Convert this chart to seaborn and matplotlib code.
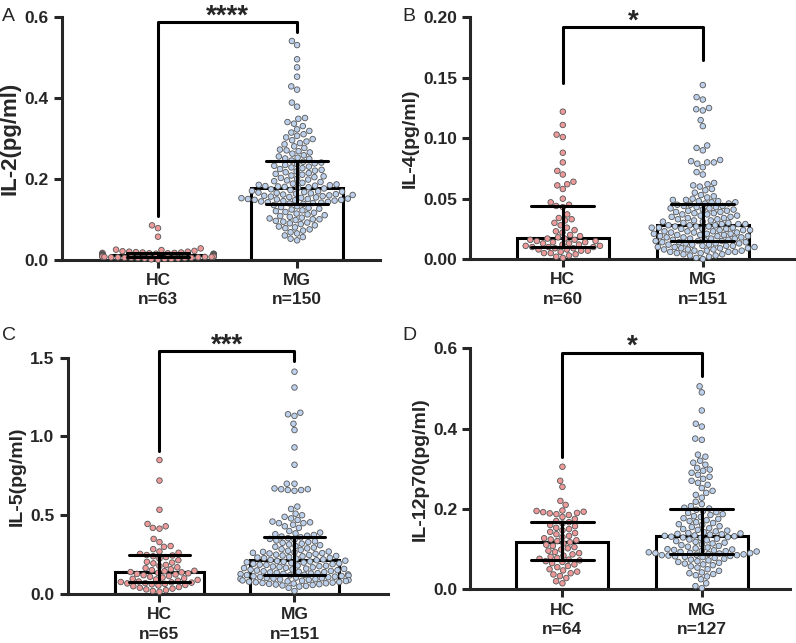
import numpy as np
import pandas as pd
import matplotlib
matplotlib.use("Agg")
import matplotlib.pyplot as plt
import seaborn as sns
from matplotlib.ticker import FormatStrFormatter

sns.set_style("ticks")
plt.rcParams['font.family'] = ['Liberation Sans', 'DejaVu Sans']

groups = ['HC', 'MG']

# --- panel A: IL-2 ---
il2_hc = [0.085, 0.078, 0.057,
          0.028, 0.025, 0.024, 0.022, 0.021, 0.020, 0.020, 0.019, 0.018, 0.018,
          0.017, 0.017, 0.016, 0.016, 0.015, 0.015, 0.015, 0.014, 0.014, 0.014,
          0.013, 0.013, 0.013, 0.012, 0.012, 0.012, 0.012, 0.011, 0.011, 0.011,
          0.011, 0.010, 0.010, 0.010, 0.010, 0.009, 0.009, 0.009, 0.009, 0.008,
          0.008, 0.008, 0.008, 0.007, 0.007, 0.007, 0.006, 0.006, 0.006, 0.005,
          0.005, 0.005, 0.004, 0.004, 0.003, 0.003, 0.002, 0.002, 0.001, 0.000]
il2_mg = [0.540, 0.530, 0.495, 0.475, 0.452, 0.428, 0.420, 0.388, 0.378, 0.350,
          0.348, 0.340, 0.336, 0.330, 0.322, 0.318, 0.314, 0.310, 0.306, 0.302,
          0.298, 0.295, 0.292, 0.288, 0.285, 0.280, 0.276, 0.272, 0.270, 0.268,
          0.265, 0.262, 0.258, 0.255, 0.252, 0.250, 0.249,
          0.245, 0.242, 0.240, 0.238, 0.236, 0.234, 0.232, 0.230, 0.228, 0.226,
          0.224, 0.222, 0.220, 0.218, 0.216, 0.214, 0.212, 0.210, 0.208, 0.206,
          0.204, 0.202, 0.200, 0.198, 0.196, 0.194, 0.192, 0.190, 0.188, 0.186,
          0.185, 0.184, 0.183, 0.182, 0.181, 0.180, 0.179, 0.178,
          0.176, 0.174, 0.172, 0.170, 0.169, 0.168, 0.167, 0.166, 0.165, 0.164,
          0.163, 0.162, 0.161, 0.160, 0.159, 0.158, 0.157, 0.156, 0.155, 0.154,
          0.153, 0.152, 0.151, 0.150, 0.150, 0.149, 0.148, 0.148, 0.147, 0.146,
          0.145, 0.144, 0.143, 0.142, 0.141, 0.140, 0.139, 0.138,
          0.135, 0.132, 0.130, 0.128, 0.126, 0.124, 0.122, 0.120, 0.118, 0.116,
          0.114, 0.112, 0.110, 0.108, 0.106, 0.104, 0.102, 0.100, 0.100, 0.098,
          0.096, 0.094, 0.092, 0.090, 0.088, 0.085, 0.082, 0.080, 0.078, 0.075,
          0.072, 0.068, 0.065, 0.060, 0.056, 0.052, 0.048]

# --- panel B: IL-4 ---
il4_hc = [0.122, 0.111, 0.103, 0.101, 0.088, 0.080, 0.073, 0.070, 0.064, 0.062,
          0.061, 0.058, 0.050, 0.047, 0.045,
          0.044, 0.043, 0.037, 0.034, 0.033, 0.032, 0.030, 0.028, 0.026, 0.024,
          0.023, 0.022, 0.020, 0.019, 0.018,
          0.017, 0.017, 0.016, 0.016, 0.015, 0.015, 0.014, 0.014, 0.013, 0.013,
          0.012, 0.012, 0.011, 0.011, 0.010,
          0.010, 0.010, 0.009, 0.009, 0.008, 0.008, 0.007, 0.007, 0.006, 0.005,
          0.005, 0.004, 0.003, 0.002, 0.001]
il4_mg = [0.144, 0.134, 0.132, 0.125, 0.124, 0.123, 0.115, 0.110, 0.094, 0.092,
          0.090, 0.082, 0.081, 0.080, 0.080, 0.079, 0.076, 0.072, 0.070, 0.063,
          0.062, 0.061, 0.060, 0.058, 0.057, 0.055, 0.053, 0.052, 0.051, 0.050,
          0.049, 0.049, 0.048, 0.048, 0.047, 0.047, 0.046, 0.046,
          0.045, 0.045, 0.044, 0.044, 0.043, 0.043, 0.042, 0.042, 0.041, 0.041,
          0.040, 0.040, 0.039, 0.039, 0.038, 0.038, 0.037, 0.037, 0.036, 0.036,
          0.035, 0.035, 0.034, 0.034, 0.033, 0.033, 0.032, 0.032, 0.031, 0.031,
          0.030, 0.030, 0.029, 0.029, 0.029, 0.028, 0.028,
          0.028, 0.027, 0.027, 0.027, 0.026, 0.026, 0.026, 0.025, 0.025, 0.025,
          0.024, 0.024, 0.024, 0.023, 0.023, 0.023, 0.022, 0.022, 0.022, 0.021,
          0.021, 0.021, 0.020, 0.020, 0.020, 0.019, 0.019, 0.019, 0.018, 0.018,
          0.018, 0.017, 0.017, 0.017, 0.016, 0.016, 0.016, 0.015,
          0.015, 0.015, 0.014, 0.014, 0.014, 0.013, 0.013, 0.013, 0.012, 0.012,
          0.012, 0.011, 0.011, 0.011, 0.010, 0.010, 0.010, 0.009, 0.009, 0.009,
          0.008, 0.008, 0.008, 0.007, 0.007, 0.007, 0.006, 0.006, 0.006, 0.005,
          0.005, 0.004, 0.004, 0.003, 0.003, 0.002, 0.001, 0.000]

# --- panel C: IL-5 ---
il5_hc = [0.850, 0.720, 0.535, 0.445, 0.430, 0.420, 0.415, 0.350, 0.330, 0.305,
          0.300, 0.285, 0.270, 0.262, 0.255, 0.248,
          0.245, 0.240, 0.235, 0.225, 0.215, 0.205, 0.200, 0.195, 0.185, 0.178,
          0.170, 0.165, 0.158, 0.152, 0.148, 0.145, 0.140,
          0.138, 0.135, 0.132, 0.128, 0.125, 0.120, 0.115, 0.110, 0.105, 0.100,
          0.097, 0.093, 0.090, 0.085, 0.080, 0.077,
          0.075, 0.073, 0.070, 0.068, 0.065, 0.062, 0.058, 0.055, 0.050, 0.045,
          0.040, 0.035, 0.030, 0.025, 0.020, 0.015]
il5_mg = [1.410, 1.310, 1.150, 1.140, 1.130, 1.080, 1.040, 0.930, 0.820, 0.700,
          0.700, 0.670, 0.665, 0.665, 0.660, 0.660, 0.655, 0.555, 0.540, 0.510,
          0.500, 0.490, 0.480, 0.470, 0.460, 0.455, 0.450, 0.450, 0.440, 0.430,
          0.420, 0.400, 0.390, 0.385, 0.380, 0.375, 0.370, 0.365,
          0.360, 0.355, 0.350, 0.345, 0.340, 0.335, 0.330, 0.325, 0.320, 0.315,
          0.310, 0.305, 0.300, 0.295, 0.290, 0.285, 0.280, 0.275, 0.270, 0.268,
          0.265, 0.262, 0.260, 0.258, 0.255, 0.250, 0.248, 0.245, 0.242, 0.240,
          0.235, 0.232, 0.230, 0.228, 0.225, 0.220, 0.217,
          0.215, 0.212, 0.210, 0.207, 0.205, 0.202, 0.200, 0.197, 0.195, 0.192,
          0.190, 0.187, 0.185, 0.182, 0.180, 0.177, 0.175, 0.172, 0.170, 0.167,
          0.165, 0.162, 0.160, 0.157, 0.155, 0.152, 0.150, 0.147, 0.145, 0.142,
          0.140, 0.138, 0.135, 0.133, 0.131, 0.129, 0.127, 0.125,
          0.123, 0.121, 0.119, 0.117, 0.115, 0.113, 0.111, 0.109, 0.107, 0.105,
          0.103, 0.101, 0.099, 0.097, 0.095, 0.093, 0.091, 0.089, 0.087, 0.085,
          0.083, 0.081, 0.079, 0.077, 0.075, 0.073, 0.071, 0.069, 0.067, 0.065,
          0.063, 0.061, 0.058, 0.055, 0.052, 0.048, 0.040, 0.020]

# --- panel D: IL-12p70 ---
il12_hc = [0.305, 0.270, 0.255, 0.220, 0.210, 0.196, 0.195, 0.193, 0.192, 0.190,
           0.189, 0.187, 0.185, 0.180, 0.175, 0.170,
           0.167, 0.164, 0.160, 0.157, 0.153, 0.150, 0.147, 0.143, 0.140, 0.137,
           0.133, 0.130, 0.127, 0.124, 0.122, 0.120,
           0.117, 0.114, 0.111, 0.108, 0.105, 0.102, 0.099, 0.096, 0.093, 0.090,
           0.087, 0.084, 0.081, 0.078, 0.076, 0.074,
           0.072, 0.070, 0.068, 0.065, 0.062, 0.058, 0.055, 0.050, 0.047, 0.044,
           0.040, 0.037, 0.033, 0.028, 0.020, 0.015]
il12_mg = [0.505, 0.490, 0.445, 0.412, 0.405, 0.375, 0.372, 0.335, 0.330, 0.320,
           0.315, 0.310, 0.302, 0.298, 0.295, 0.290, 0.285, 0.280, 0.275, 0.270,
           0.265, 0.260, 0.252, 0.245, 0.240, 0.235, 0.228, 0.218, 0.212, 0.207,
           0.203, 0.201,
           0.198, 0.195, 0.192, 0.190, 0.187, 0.185, 0.182, 0.180, 0.177, 0.175,
           0.172, 0.170, 0.167, 0.165, 0.162, 0.160, 0.157, 0.155, 0.152, 0.150,
           0.148, 0.146, 0.144, 0.142, 0.140, 0.139, 0.138, 0.137, 0.136, 0.134,
           0.133, 0.132,
           0.131, 0.130, 0.129, 0.128, 0.126, 0.124, 0.122, 0.120, 0.118, 0.116,
           0.114, 0.112, 0.110, 0.108, 0.106, 0.104, 0.102, 0.100, 0.099, 0.098,
           0.097, 0.096, 0.095, 0.094, 0.093, 0.092, 0.091, 0.090, 0.090, 0.089,
           0.088,
           0.087, 0.086, 0.085, 0.085, 0.084, 0.083, 0.082, 0.081, 0.080, 0.078,
           0.076, 0.074, 0.072, 0.070, 0.068, 0.066, 0.064, 0.062, 0.060, 0.057,
           0.054, 0.050, 0.046, 0.042, 0.040, 0.038, 0.035, 0.032, 0.025, 0.015,
           0.008, 0.003]

hc_color = '#EE9A9A'
mg_color = '#BDD1EC'

fig = plt.figure(figsize=(7.96, 6.43), dpi=100)

# panel settings: axes rect, data, ylabel, ylim, ticks, fmt, stars, bracket
panels = [
    dict(rect=[0.078, 0.596, 0.400, 0.378], hc=il2_hc, mg=il2_mg, label='IL-2(pg/ml)',
         lsize=16, ylim=0.6, ticks=[0, 0.2, 0.4, 0.6], fmt='%.1f', xlim=(-0.69, 1.60),
         star='****', br=(0.586, 0.107, 0.562), letter='A', lpos=(0.003, 0.975)),
    dict(rect=[0.591, 0.597, 0.408, 0.376], hc=il4_hc, mg=il4_mg, label='IL-4(pg/ml)',
         lsize=14, ylim=0.2, ticks=[0, 0.05, 0.10, 0.15, 0.20], fmt='%.2f', xlim=(-0.66, 1.66),
         star='*', br=(0.192, 0.146, 0.165), letter='B', lpos=(0.505, 0.975)),
    dict(rect=[0.085, 0.076, 0.402, 0.368], hc=il5_hc, mg=il5_mg, label='IL-5(pg/ml)',
         lsize=14, ylim=1.5, ticks=[0, 0.5, 1.0, 1.5], fmt='%.1f', xlim=(-0.68, 1.69),
         star='***', br=(1.54, 0.91, 1.48), letter='C', lpos=(0.003, 0.478)),
    dict(rect=[0.591, 0.0835, 0.401, 0.375], hc=il12_hc, mg=il12_mg, label='IL-12p70(pg/ml)',
         lsize=14, ylim=0.6, ticks=[0, 0.2, 0.4, 0.6], fmt='%.1f', xlim=(-0.66, 1.63),
         star='*', br=(0.589, 0.33, 0.53), letter='D', lpos=(0.505, 0.478)),
]

for p in panels:
    ax = fig.add_axes(p['rect'])
    df = pd.DataFrame({
        'group': ['HC'] * len(p['hc']) + ['MG'] * len(p['mg']),
        'value': p['hc'] + p['mg'],
    })
    # median bar with interquartile range
    sns.barplot(data=df, x='group', y='value', order=groups, estimator='median',
                errorbar=('pi', 50), width=0.66, color='white', edgecolor='black',
                linewidth=2.2, capsize=0.45, err_kws={'color': 'black', 'linewidth': 2.2},
                ax=ax)
    sns.swarmplot(data=df, x='group', y='value', order=groups, hue='group',
                  palette=[hc_color, mg_color], size=4, edgecolor='#555555',
                  linewidth=0.6, legend=False, clip_on=False, ax=ax)
    for ln in ax.lines:
        ln.set_zorder(5)

    ax.set_ylim(0, p['ylim'])
    ax.set_xlim(*p['xlim'])
    ax.set_yticks(p['ticks'])
    ax.yaxis.set_major_formatter(FormatStrFormatter(p['fmt']))
    n_hc, n_mg = len(p['hc']), len(p['mg'])
    ax.set_xticks([0, 1])
    ax.set_xticklabels([f'HC\nn={n_hc}', f'MG\nn={n_mg}'], linespacing=1.35)
    ax.set_xlabel('')
    ax.set_ylabel(p['label'], fontsize=p['lsize'], fontweight='bold', labelpad=3)
    ax.tick_params(axis='both', width=2.2, length=6, labelsize=12.5)
    for lab in ax.get_xticklabels() + ax.get_yticklabels():
        lab.set_fontweight('bold')
    sns.despine(ax=ax)
    ax.spines['left'].set_linewidth(2.2)
    ax.spines['bottom'].set_linewidth(2.2)

    # significance bracket
    top, hc_end, mg_end = p['br']
    ax.plot([0, 0, 1, 1], [hc_end, top, top, mg_end], color='black', lw=2.2,
            clip_on=False, zorder=6)
    ax.annotate(p['star'], xy=(0.5, top), xytext=(0, -1), textcoords='offset points',
                ha='center', va='baseline', fontsize=20, fontweight='bold',
                annotation_clip=False)

    fig.text(p['lpos'][0], p['lpos'][1], p['letter'], fontsize=14, va='center', ha='left')

plt.savefig('out.png', dpi=100)
plt.close()
